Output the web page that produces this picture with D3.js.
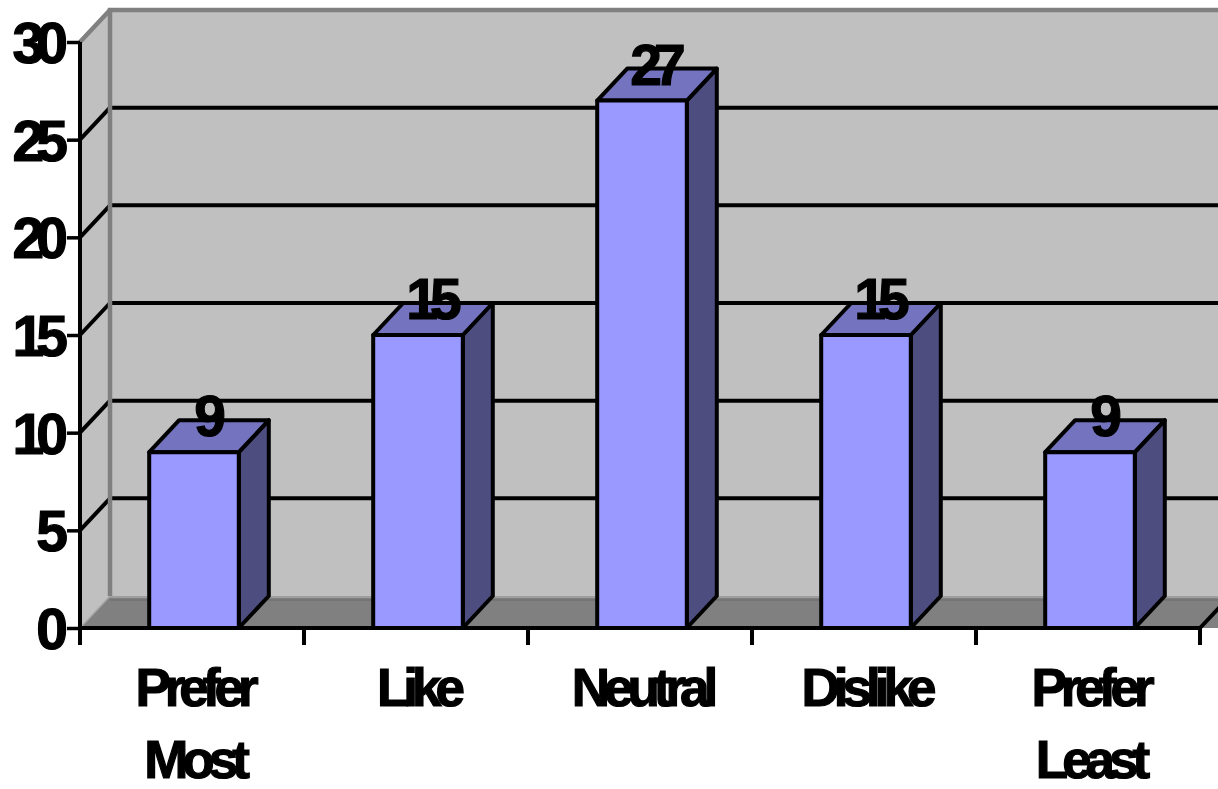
<!DOCTYPE html>
<html>
<head>
<meta charset="utf-8">
<script src="https://cdn.jsdelivr.net/npm/d3@7"></script>
<style>
  html, body { margin: 0; padding: 0; background: #ffffff; }
  svg { display: block; }
  text { font-family: "Liberation Sans", Arial, Helvetica, sans-serif; font-weight: bold; fill: #000; stroke: #000; stroke-width: 1.2px; }
</style>
</head>
<body>
<svg id="chart" width="1218" height="789"></svg>
<script>
// ---- data ----
const categories = ["Prefer Most", "Like", "Neutral", "Dislike", "Prefer Least"];
const categoryLines = [["Prefer", "Most"], ["Like"], ["Neutral"], ["Dislike"], ["Prefer", "Least"]];
const values = [9, 15, 27, 15, 9];
const yTicks = [0, 5, 10, 15, 20, 25, 30];
const gridValues = [5, 10, 15, 20, 25];

// ---- layout ----
const W = 1218, H = 789;
const pLeft = 80, pRight = 1200, pBottom = 628, pTop = 42;
const DX = 30, DY = 32;   // 3D depth offset

const svg = d3.select("#chart");
const y = d3.scaleLinear().domain([0, 30]).range([pBottom, pTop]);
const x = d3.scaleBand().domain(categories).range([pLeft, pRight]).paddingInner(0.6).paddingOuter(0.3);
const step = x.step();

const line = d3.line();

// left side wall
svg.append("path")
  .attr("d", line([[pLeft, y(0)], [pLeft, y(30)], [pLeft + DX, y(30) - DY], [pLeft + DX, y(0) - DY]]) + "Z")
  .attr("fill", "#c0c0c0");
// back wall
svg.append("rect")
  .attr("x", pLeft + DX).attr("y", y(30) - DY)
  .attr("width", W - pLeft).attr("height", y(0) - y(30))
  .attr("fill", "#c0c0c0");
// floor
svg.append("path")
  .attr("d", line([[pLeft, y(0)], [pLeft + DX, y(0) - DY], [pRight + DX + 40, y(0) - DY], [pRight + 40, y(0)]]) + "Z")
  .attr("fill", "#808080");
// floor back edge
svg.append("path")
  .attr("d", line([[pLeft + DX, y(0) - DY + 1], [W, y(0) - DY + 1]]))
  .attr("stroke", "#a8a8a8").attr("stroke-width", 1.5).attr("fill", "none");
svg.append("path")
  .attr("d", line([[pLeft + DX, y(0) - DY + 4], [W, y(0) - DY + 4]]))
  .attr("stroke", "#6a6a6a").attr("stroke-width", 1).attr("fill", "none");
svg.append("path")
  .attr("d", line([[pLeft + 1, y(0) - 1], [pLeft + DX, y(0) - DY]]))
  .attr("stroke", "#a8a8a8").attr("stroke-width", 1.5).attr("fill", "none");

// gridlines: back wall + left wall diagonals
const grid = svg.append("g").attr("stroke", "#000").attr("stroke-width", 4).attr("fill", "none");
gridValues.forEach(v => {
  grid.append("path").attr("d", line([[pLeft + DX, y(v) - DY], [W, y(v) - DY]]));
  grid.append("path").attr("d", line([[pLeft, y(v)], [pLeft + DX, y(v) - DY]]));
});

// gray wall edges
const edges = svg.append("g").attr("stroke", "#808080").attr("stroke-width", 4.5).attr("fill", "none");
edges.append("path").attr("d", line([[pLeft + DX, y(0) - DY], [pLeft + DX, y(30) - DY], [W, y(30) - DY]]));
edges.append("path").attr("d", line([[pLeft, y(30)], [pLeft + DX, y(30) - DY]]));

// floor right edge
svg.append("path")
  .attr("d", line([[pRight, y(0)], [pRight + DX, y(0) - DY]]))
  .attr("stroke", "#000").attr("stroke-width", 4);

// bars
const barW = x.bandwidth();
const shift = 2;
const bars = svg.append("g").attr("stroke", "#000").attr("stroke-width", 4).attr("stroke-linejoin", "round");
categories.forEach((c, i) => {
  const x0 = x(c) + shift, x1 = x0 + barW;
  const yt = y(values[i]), yb = y(0);
  bars.append("path")
    .attr("d", line([[x1, yt], [x1 + DX, yt - DY], [x1 + DX, yb - DY], [x1, yb]]) + "Z")
    .attr("fill", "#4d4d80");
  bars.append("path")
    .attr("d", line([[x0, yt], [x0 + DX, yt - DY], [x1 + DX, yt - DY], [x1, yt]]) + "Z")
    .attr("fill", "#7373bf");
  bars.append("rect")
    .attr("x", x0).attr("y", yt).attr("width", barW).attr("height", yb - yt)
    .attr("fill", "#9999ff");
});

// value labels
categories.forEach((c, i) => {
  const cx = x(c) + shift + barW / 2 + DX / 2;
  svg.append("text")
    .attr("x", cx - 3).attr("y", y(values[i]) - DY / 2)
    .attr("text-anchor", "middle")
    .attr("font-size", 57).attr("letter-spacing", -8)
    .text(values[i]);
});

// y axis
const yAxis = d3.axisLeft(y).tickValues(yTicks).tickSize(13).tickSizeOuter(0).tickPadding(4);
const gy = svg.append("g").attr("transform", `translate(${pLeft},0)`).call(yAxis);
gy.select(".domain").remove();
gy.selectAll(".tick line").attr("stroke", "#000").attr("stroke-width", 3.5);
gy.selectAll(".tick text")
  .attr("font-size", 57).attr("letter-spacing", -8)
  .attr("font-family", "'Liberation Sans', Arial, sans-serif").attr("font-weight", "bold")
  .attr("x", -20).attr("dy", "0.36em").attr("fill", "#000");
svg.append("path")
  .attr("d", line([[pLeft, y(30)], [pLeft, pBottom + 17]]))
  .attr("stroke", "#000").attr("stroke-width", 4);

// x axis
svg.append("path")
  .attr("d", line([[pLeft, pBottom], [pRight, pBottom]]))
  .attr("stroke", "#000").attr("stroke-width", 4);
const boundaries = categories.map(c => x(c) - x.paddingInner() * step / 2).concat([pRight]);
svg.append("g").selectAll("line").data(boundaries).join("line")
  .attr("x1", d => d).attr("x2", d => d)
  .attr("y1", pBottom).attr("y2", pBottom + 17)
  .attr("stroke", "#000").attr("stroke-width", 4);

// category labels
categories.forEach((c, i) => {
  const cx = x(c) + barW / 2 + 2;
  const t = svg.append("text")
    .attr("text-anchor", "middle")
    .attr("font-size", 53).attr("letter-spacing", -6);
  categoryLines[i].forEach((ln, j) => {
    t.append("tspan").attr("x", cx).attr("y", 706 + j * 72).text(ln);
  });
});
</script>
</body>
</html>
